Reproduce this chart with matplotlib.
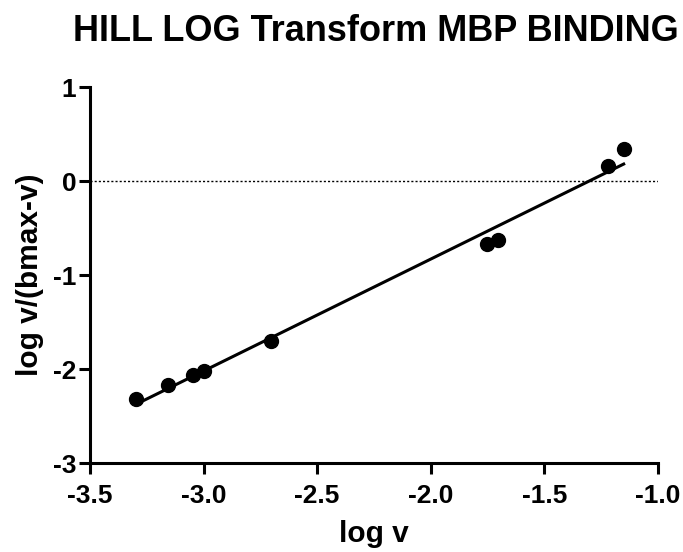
import numpy as np
import matplotlib.pyplot as plt

plt.rcParams['font.family'] = ['Liberation Sans', 'DejaVu Sans']
plt.rcParams['axes.unicode_minus'] = False

# data
log_v = np.array([-3.30, -3.157, -3.047, -2.998, -2.703, -1.753, -1.704, -1.220, -1.150])
log_ratio = np.array([-2.32, -2.17, -2.06, -2.02, -1.70, -0.67, -0.63, 0.16, 0.34])
xticks = [-3.5, -3.0, -2.5, -2.0, -1.5, -1.0]
yticks = [-3, -2, -1, 0, 1]

slope, icpt = np.polyfit(log_v, log_ratio, 1)
xf = np.array([log_v.min(), log_v.max()])

fig = plt.figure(figsize=(6.83, 5.52), dpi=100)
ax = fig.add_axes([0.132, 0.161, 0.831, 0.681])

ax.axhline(0, color='black', lw=1.0, ls=(0, (1.5, 1.5)), zorder=1)
ax.plot(xf, slope*xf + icpt, color='black', lw=2.2, zorder=2)
ax.plot(log_v, log_ratio, 'o', color='black', ms=10, zorder=3)

ax.set_xlim(-3.5, -1.0)
ax.set_ylim(-3, 1)
ax.set_xticks(xticks)
ax.set_xticklabels(['%.1f' % t for t in xticks])
ax.set_yticks(yticks)

for s in ['top', 'right']:
  ax.spines[s].set_visible(False)
for s in ['left', 'bottom']:
  ax.spines[s].set_linewidth(2.2)
ax.tick_params(width=2.2, length=8, labelsize=19)
ax.tick_params(axis='x', pad=7)
ax.tick_params(axis='y', pad=2)
for lab in ax.get_xticklabels() + ax.get_yticklabels():
  lab.set_fontweight('bold')

ax.set_xlabel('log v', fontsize=21.5, fontweight='bold', labelpad=9)
ax.set_ylabel('log v/(bmax-v)', fontsize=21.5, fontweight='bold', labelpad=6)
fig.suptitle('HILL LOG Transform MBP BINDING', fontsize=26, fontweight='bold', x=0.55, y=0.975)

plt.savefig('out.png', dpi=100)
